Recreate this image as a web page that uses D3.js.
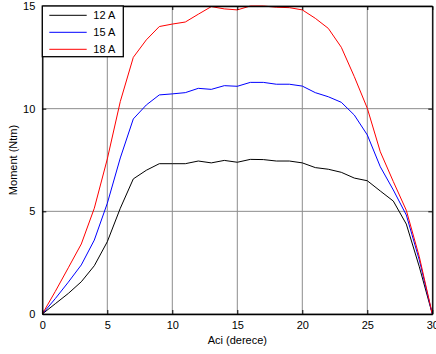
<!DOCTYPE html>
<html>
<head>
<meta charset="utf-8">
<script src="https://cdn.jsdelivr.net/npm/d3@7"></script>
<style>
  html, body { margin: 0; padding: 0; background: #fff; }
  svg { display: block; font-family: "Liberation Sans", Arial, sans-serif; }
</style>
</head>
<body>
<svg id="chart" width="436" height="354"></svg>
<script>
// Torque vs. angle for three phase currents
const angles = d3.range(0, 31);
const torque12 = [0, 0.5, 1.0, 1.57, 2.35, 3.52, 5.15, 6.58, 7.0, 7.32, 7.32, 7.32, 7.45, 7.36, 7.48, 7.39,
  7.53, 7.52, 7.45, 7.45, 7.36, 7.13, 7.05, 6.9, 6.62, 6.49, 5.99, 5.5, 4.38, 2.3, 0];
const torque15 = [0, 0.75, 1.55, 2.39, 3.6, 5.39, 7.6, 9.5, 10.18, 10.67, 10.72, 10.78, 10.99, 10.94, 11.12, 11.09,
  11.28, 11.28, 11.19, 11.19, 11.1, 10.78, 10.58, 10.31, 9.69, 8.72, 7.17, 6.04, 4.82, 2.63, 0];
const torque18 = [0, 1.1, 2.25, 3.41, 5.15, 7.55, 10.35, 12.5, 13.35, 14.0, 14.12, 14.22, 14.6, 14.97, 14.86, 14.81,
  15.0, 15.0, 14.94, 14.92, 14.81, 14.4, 13.91, 12.99, 11.56, 10.02, 7.9, 6.45, 5.05, 2.79, 0];
const seriesNames = ["12 A", "15 A", "18 A"];
const seriesColors = ["#000000", "#0000ff", "#ff0000"];
const xTicks = [0, 5, 10, 15, 20, 25, 30];
const yTicks = [0, 5, 10, 15];

const series = [torque12, torque15, torque18];

const svg = d3.select("#chart");
const plotLeft = 42.3, plotRight = 432.3, plotTop = 6, plotBottom = 314;

const x = d3.scaleLinear().domain([0, 30]).range([plotLeft, plotRight]);
const y = d3.scaleLinear().domain([0, 15]).range([plotBottom, plotTop]);

// grid
const grid = svg.append("g").attr("stroke", "#8c8c8c").attr("stroke-width", 1);
xTicks.forEach(t => grid.append("line")
  .attr("x1", x(t)).attr("x2", x(t)).attr("y1", plotTop).attr("y2", plotBottom));
yTicks.forEach(t => grid.append("line")
  .attr("x1", plotLeft).attr("x2", plotRight).attr("y1", y(t)).attr("y2", y(t)));

// lines
const line = d3.line().x((d, i) => x(angles[i])).y(d => y(d));
series.forEach((s, k) => {
  svg.append("path").datum(s)
    .attr("fill", "none")
    .attr("stroke", seriesColors[k])
    .attr("stroke-width", 1)
    .attr("d", line);
});

// axes (inward ticks, box)
const tickLen = 4;
const xAxisB = d3.axisBottom(x).tickValues(xTicks).tickSizeInner(-tickLen).tickSizeOuter(0).tickPadding(7);
const xAxisT = d3.axisTop(x).tickValues(xTicks).tickSizeInner(-tickLen).tickSizeOuter(0).tickFormat("");
const yAxisL = d3.axisLeft(y).tickValues(yTicks).tickSizeInner(-tickLen).tickSizeOuter(0).tickPadding(7);
const yAxisR = d3.axisRight(y).tickValues(yTicks).tickSizeInner(-tickLen).tickSizeOuter(0).tickFormat("");

function styleAxis(g) {
  g.select(".domain").attr("stroke", "#000").attr("stroke-width", 1.3);
  g.selectAll(".tick line").attr("stroke", "#000");
  g.selectAll(".tick text").attr("fill", "#000").attr("font-size", 11)
    .attr("font-family", "Liberation Sans, Arial, sans-serif");
}
svg.append("g").attr("transform", `translate(0,${plotBottom})`).call(xAxisB).call(styleAxis);
svg.append("g").attr("transform", `translate(0,${plotTop})`).call(xAxisT).call(styleAxis);
svg.append("g").attr("transform", `translate(${plotLeft},0)`).call(yAxisL).call(styleAxis);
svg.append("g").attr("transform", `translate(${plotRight},0)`).call(yAxisR).call(styleAxis);

// axis labels
svg.append("text").attr("x", (plotLeft + plotRight) / 2).attr("y", 344)
  .attr("text-anchor", "middle").attr("font-size", 11).attr("fill", "#000")
  .text("Aci (derece)");
svg.append("text").attr("transform", `translate(17,${(plotTop + plotBottom) / 2}) rotate(-90)`)
  .attr("text-anchor", "middle").attr("font-size", 11).attr("fill", "#000")
  .text("Moment (Ntm)");

// legend
const lg = svg.append("g");
lg.append("rect").attr("x", 42.3).attr("y", 6).attr("width", 81).attr("height", 50.7)
  .attr("fill", "#fff").attr("stroke", "#000").attr("stroke-width", 1.3);
seriesNames.forEach((name, k) => {
  const ry = 15.3 + k * 17;
  lg.append("line").attr("x1", 49.3).attr("x2", 86.7).attr("y1", ry).attr("y2", ry)
    .attr("stroke", seriesColors[k]).attr("stroke-width", 1);
  lg.append("text").attr("x", 93.3).attr("y", ry + 4).attr("font-size", 11).attr("fill", "#000")
    .text(name);
});
</script>
</body>
</html>
